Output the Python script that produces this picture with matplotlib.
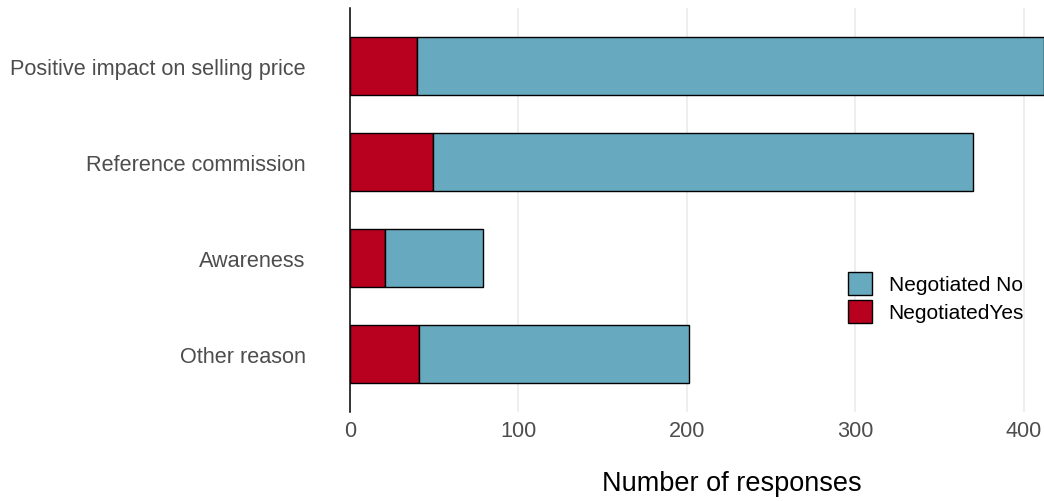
import matplotlib
matplotlib.use("Agg")
import matplotlib.pyplot as plt
from matplotlib.patches import Patch

plt.rcParams['font.family'] = ['Liberation Sans', 'DejaVu Sans']

categories = ["Positive impact on selling price", "Reference commission", "Awareness", "Other reason"]
negotiated_yes = [40, 49, 21, 41]
negotiated_no = [372, 321, 58, 160]
x_ticks = [0, 100, 200, 300, 400]
x_max = 412

red = "#B8001F"
blue = "#67AABF"

fig = plt.figure(figsize=(10.44, 5.02), dpi=100)
ax = fig.add_axes([350/1044, 1 - 413/502, 1 - 350/1044, (413 - 9)/502])

ypos = list(range(len(categories)))
ax.barh(ypos, negotiated_yes, height=0.6, color=red, edgecolor="black", linewidth=1.0, zorder=3)
ax.barh(ypos, negotiated_no, left=negotiated_yes, height=0.6, color=blue, edgecolor="black", linewidth=1.0, zorder=3)

ax.set_xlim(0, x_max)
ax.set_ylim(len(categories) - 0.4, -0.6)
ax.set_yticks(ypos)
ax.set_yticklabels(categories)
ax.set_xticks(x_ticks)
ax.set_xticklabels([str(t) for t in x_ticks])

for s in ["top", "right", "bottom"]:
    ax.spines[s].set_visible(False)
ax.spines["left"].set_linewidth(1.1)
ax.spines["left"].set_color("black")
ax.spines["left"].set_zorder(5)

ax.tick_params(axis="y", length=0, pad=32, labelsize=15.6, labelcolor="#4D4D4D")
ax.tick_params(axis="x", length=0, pad=6, labelsize=15.6, labelcolor="#4D4D4D")
ax.xaxis.grid(True, color="#EBEBEB", linewidth=1.2, zorder=0)
ax.yaxis.grid(False)
ax.set_axisbelow(True)

ax.set_xlabel("Number of responses", fontsize=19.5, labelpad=21, color="black")
ax.xaxis.label.set_x((732 - 350) / (1044 - 350))

handles = [Patch(facecolor=blue, edgecolor="black", linewidth=1.0, label="Negotiated No"),
           Patch(facecolor=red, edgecolor="black", linewidth=1.0, label="NegotiatedYes")]
fig.legend(handles=handles, loc="upper left", bbox_to_anchor=(848/1044, 1 - 273/502),
           frameon=False, fontsize=15, handlelength=1.15, handleheight=1.3,
           labelspacing=0.25, handletextpad=0.8, borderpad=0, borderaxespad=0)

fig.savefig("out.png", dpi=100)
